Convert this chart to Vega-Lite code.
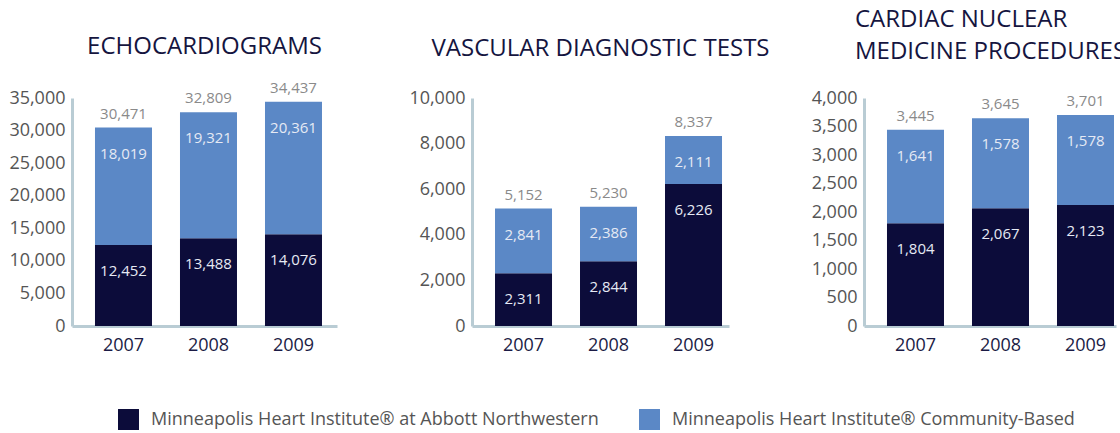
{
  "$schema": "https://vega.github.io/schema/vega-lite/v6.json",
  "padding": {"left": 8, "top": 8, "right": 0, "bottom": 0},
  "background": "white",
  "datasets": {
    "counts": [
      {"panel": "echo", "year": "2007", "series": "Minneapolis Heart Institute® at Abbott Northwestern", "order": 1, "value": 12452},
      {"panel": "echo", "year": "2007", "series": "Minneapolis Heart Institute® Community-Based", "order": 2, "value": 18019},
      {"panel": "echo", "year": "2008", "series": "Minneapolis Heart Institute® at Abbott Northwestern", "order": 1, "value": 13488},
      {"panel": "echo", "year": "2008", "series": "Minneapolis Heart Institute® Community-Based", "order": 2, "value": 19321},
      {"panel": "echo", "year": "2009", "series": "Minneapolis Heart Institute® at Abbott Northwestern", "order": 1, "value": 14076},
      {"panel": "echo", "year": "2009", "series": "Minneapolis Heart Institute® Community-Based", "order": 2, "value": 20361},
      {"panel": "vasc", "year": "2007", "series": "Minneapolis Heart Institute® at Abbott Northwestern", "order": 1, "value": 2311},
      {"panel": "vasc", "year": "2007", "series": "Minneapolis Heart Institute® Community-Based", "order": 2, "value": 2841},
      {"panel": "vasc", "year": "2008", "series": "Minneapolis Heart Institute® at Abbott Northwestern", "order": 1, "value": 2844},
      {"panel": "vasc", "year": "2008", "series": "Minneapolis Heart Institute® Community-Based", "order": 2, "value": 2386},
      {"panel": "vasc", "year": "2009", "series": "Minneapolis Heart Institute® at Abbott Northwestern", "order": 1, "value": 6226},
      {"panel": "vasc", "year": "2009", "series": "Minneapolis Heart Institute® Community-Based", "order": 2, "value": 2111},
      {"panel": "nuc", "year": "2007", "series": "Minneapolis Heart Institute® at Abbott Northwestern", "order": 1, "value": 1804},
      {"panel": "nuc", "year": "2007", "series": "Minneapolis Heart Institute® Community-Based", "order": 2, "value": 1641},
      {"panel": "nuc", "year": "2008", "series": "Minneapolis Heart Institute® at Abbott Northwestern", "order": 1, "value": 2067},
      {"panel": "nuc", "year": "2008", "series": "Minneapolis Heart Institute® Community-Based", "order": 2, "value": 1578},
      {"panel": "nuc", "year": "2009", "series": "Minneapolis Heart Institute® at Abbott Northwestern", "order": 1, "value": 2123},
      {"panel": "nuc", "year": "2009", "series": "Minneapolis Heart Institute® Community-Based", "order": 2, "value": 1578}
    ]
  },
  "data": {"name": "counts"},
  "bounds": "flush",
  "spacing": 135,
  "hconcat": [
    {
      "width": 265, "height": 228,
      "title": {"text": "ECHOCARDIOGRAMS"},
      "transform": [{"filter": "datum.panel == 'echo'"}],
      "encoding": {
        "x": {"field": "year", "type": "ordinal", "title": null,
          "scale": {"paddingInner": 0.3294, "paddingOuter": 0.2235, "align": 0.605}}
      },
      "layer": [
        {"mark": {"type": "bar"},
         "encoding": {
           "y": {"field": "value", "type": "quantitative", "title": null, "stack": "zero",
             "scale": {"domain": [0, 35000], "nice": false},
             "axis": {"values": [0, 5000, 10000, 15000, 20000, 25000, 30000, 35000], "labelExpr": "format(datum.value, ',')"}},
           "color": {"field": "series", "type": "nominal",
             "scale": {"domain": ["Minneapolis Heart Institute® at Abbott Northwestern", "Minneapolis Heart Institute® Community-Based"], "range": ["#0c0c3a", "#5b88c6"]},
             "legend": {"title": null, "orient": "none", "legendX": 46, "legendY": 311, "direction": "horizontal"}},
           "order": {"field": "order"}
         }},
        {"transform": [{"stack": "value", "groupby": ["year"], "sort": [{"field": "order"}], "as": ["v0", "v1"]}],
         "mark": {"type": "text", "dy": 26, "color": "#e6eaf4"},
         "encoding": {
           "y": {"field": "v1", "type": "quantitative", "title": null,
             "axis": {"values": [0, 5000, 10000, 15000, 20000, 25000, 30000, 35000], "labelExpr": "format(datum.value, ',')"}},
           "text": {"field": "value", "type": "quantitative", "format": ","}
         }},
        {"transform": [{"aggregate": [{"op": "sum", "field": "value", "as": "total"}], "groupby": ["year"]}],
         "mark": {"type": "text", "dy": -14, "color": "#8a8a8a"},
         "encoding": {
           "y": {"field": "total", "type": "quantitative", "title": null,
             "axis": {"values": [0, 5000, 10000, 15000, 20000, 25000, 30000, 35000], "labelExpr": "format(datum.value, ',')"}},
           "text": {"field": "total", "type": "quantitative", "format": ","}
         }}
      ]
    },
    {
      "width": 257, "height": 228,
      "title": {"text": "VASCULAR DIAGNOSTIC TESTS", "offset": 28},
      "transform": [{"filter": "datum.panel == 'vasc'"}],
      "encoding": {
        "x": {"field": "year", "type": "ordinal", "title": null,
          "scale": {"paddingInner": 0.3294, "paddingOuter": 0.1765, "align": 0.767}}
      },
      "layer": [
        {"mark": {"type": "bar"},
         "encoding": {
           "y": {"field": "value", "type": "quantitative", "title": null, "stack": "zero",
             "scale": {"domain": [0, 10000], "nice": false},
             "axis": {"values": [0, 2000, 4000, 6000, 8000, 10000], "labelExpr": "format(datum.value, ',')"}},
           "color": {"field": "series", "type": "nominal"},
           "order": {"field": "order"}
         }},
        {"transform": [{"stack": "value", "groupby": ["year"], "sort": [{"field": "order"}], "as": ["v0", "v1"]}],
         "mark": {"type": "text", "dy": 26, "color": "#e6eaf4"},
         "encoding": {
           "y": {"field": "v1", "type": "quantitative", "title": null,
             "axis": {"values": [0, 2000, 4000, 6000, 8000, 10000], "labelExpr": "format(datum.value, ',')"}},
           "text": {"field": "value", "type": "quantitative", "format": ","}
         }},
        {"transform": [{"aggregate": [{"op": "sum", "field": "value", "as": "total"}], "groupby": ["year"]}],
         "mark": {"type": "text", "dy": -14, "color": "#8a8a8a"},
         "encoding": {
           "y": {"field": "total", "type": "quantitative", "title": null,
             "axis": {"values": [0, 2000, 4000, 6000, 8000, 10000], "labelExpr": "format(datum.value, ',')"}},
           "text": {"field": "total", "type": "quantitative", "format": ","}
         }}
      ]
    },
    {
      "width": 252, "height": 228,
      "title": {"text": ["CARDIAC NUCLEAR", "MEDICINE PROCEDURES"], "anchor": "start", "align": "left", "dx": -9, "offset": 25},
      "transform": [{"filter": "datum.panel == 'nuc'"}],
      "encoding": {
        "x": {"field": "year", "type": "ordinal", "title": null,
          "scale": {"paddingInner": 0.3294, "paddingOuter": 0.147, "align": 0.92}}
      },
      "layer": [
        {"mark": {"type": "bar"},
         "encoding": {
           "y": {"field": "value", "type": "quantitative", "title": null, "stack": "zero",
             "scale": {"domain": [0, 4000], "nice": false},
             "axis": {"values": [0, 500, 1000, 1500, 2000, 2500, 3000, 3500, 4000], "labelExpr": "format(datum.value, ',')"}},
           "color": {"field": "series", "type": "nominal"},
           "order": {"field": "order"}
         }},
        {"transform": [{"stack": "value", "groupby": ["year"], "sort": [{"field": "order"}], "as": ["v0", "v1"]}],
         "mark": {"type": "text", "dy": 26, "color": "#e6eaf4"},
         "encoding": {
           "y": {"field": "v1", "type": "quantitative", "title": null,
             "axis": {"values": [0, 500, 1000, 1500, 2000, 2500, 3000, 3500, 4000], "labelExpr": "format(datum.value, ',')"}},
           "text": {"field": "value", "type": "quantitative", "format": ","}
         }},
        {"transform": [{"aggregate": [{"op": "sum", "field": "value", "as": "total"}], "groupby": ["year"]}],
         "mark": {"type": "text", "dy": -14, "color": "#8a8a8a"},
         "encoding": {
           "y": {"field": "total", "type": "quantitative", "title": null,
             "axis": {"values": [0, 500, 1000, 1500, 2000, 2500, 3000, 3500, 4000], "labelExpr": "format(datum.value, ',')"}},
           "text": {"field": "total", "type": "quantitative", "format": ","}
         }}
      ]
    }
  ],
  "config": {
    "view": {"stroke": null},
    "font": "Open Sans",
    "axis": {"labelFont": "Open Sans", "domainColor": "#b9ccd4", "domainWidth": 3, "ticks": false, "grid": false, "labelFontSize": 18},
    "axisY": {"labelColor": "#555555", "labelPadding": 7},
    "axisX": {"labelColor": "#1b1b45", "labelPadding": 10, "labelAngle": 0},
    "title": {"font": "Open Sans", "fontSize": 24, "fontWeight": "normal", "color": "#15153f", "offset": 22, "anchor": "middle", "frame": "group", "lineHeight": 32},
    "text": {"font": "Open Sans", "fontSize": 15},
    "legend": {"labelFont": "Open Sans", "labelFontSize": 18, "labelColor": "#555555", "symbolType": "square", "symbolSize": 440, "symbolStrokeWidth": 0, "columnPadding": 40, "labelOffset": 12, "labelLimit": 600}
  }
}
